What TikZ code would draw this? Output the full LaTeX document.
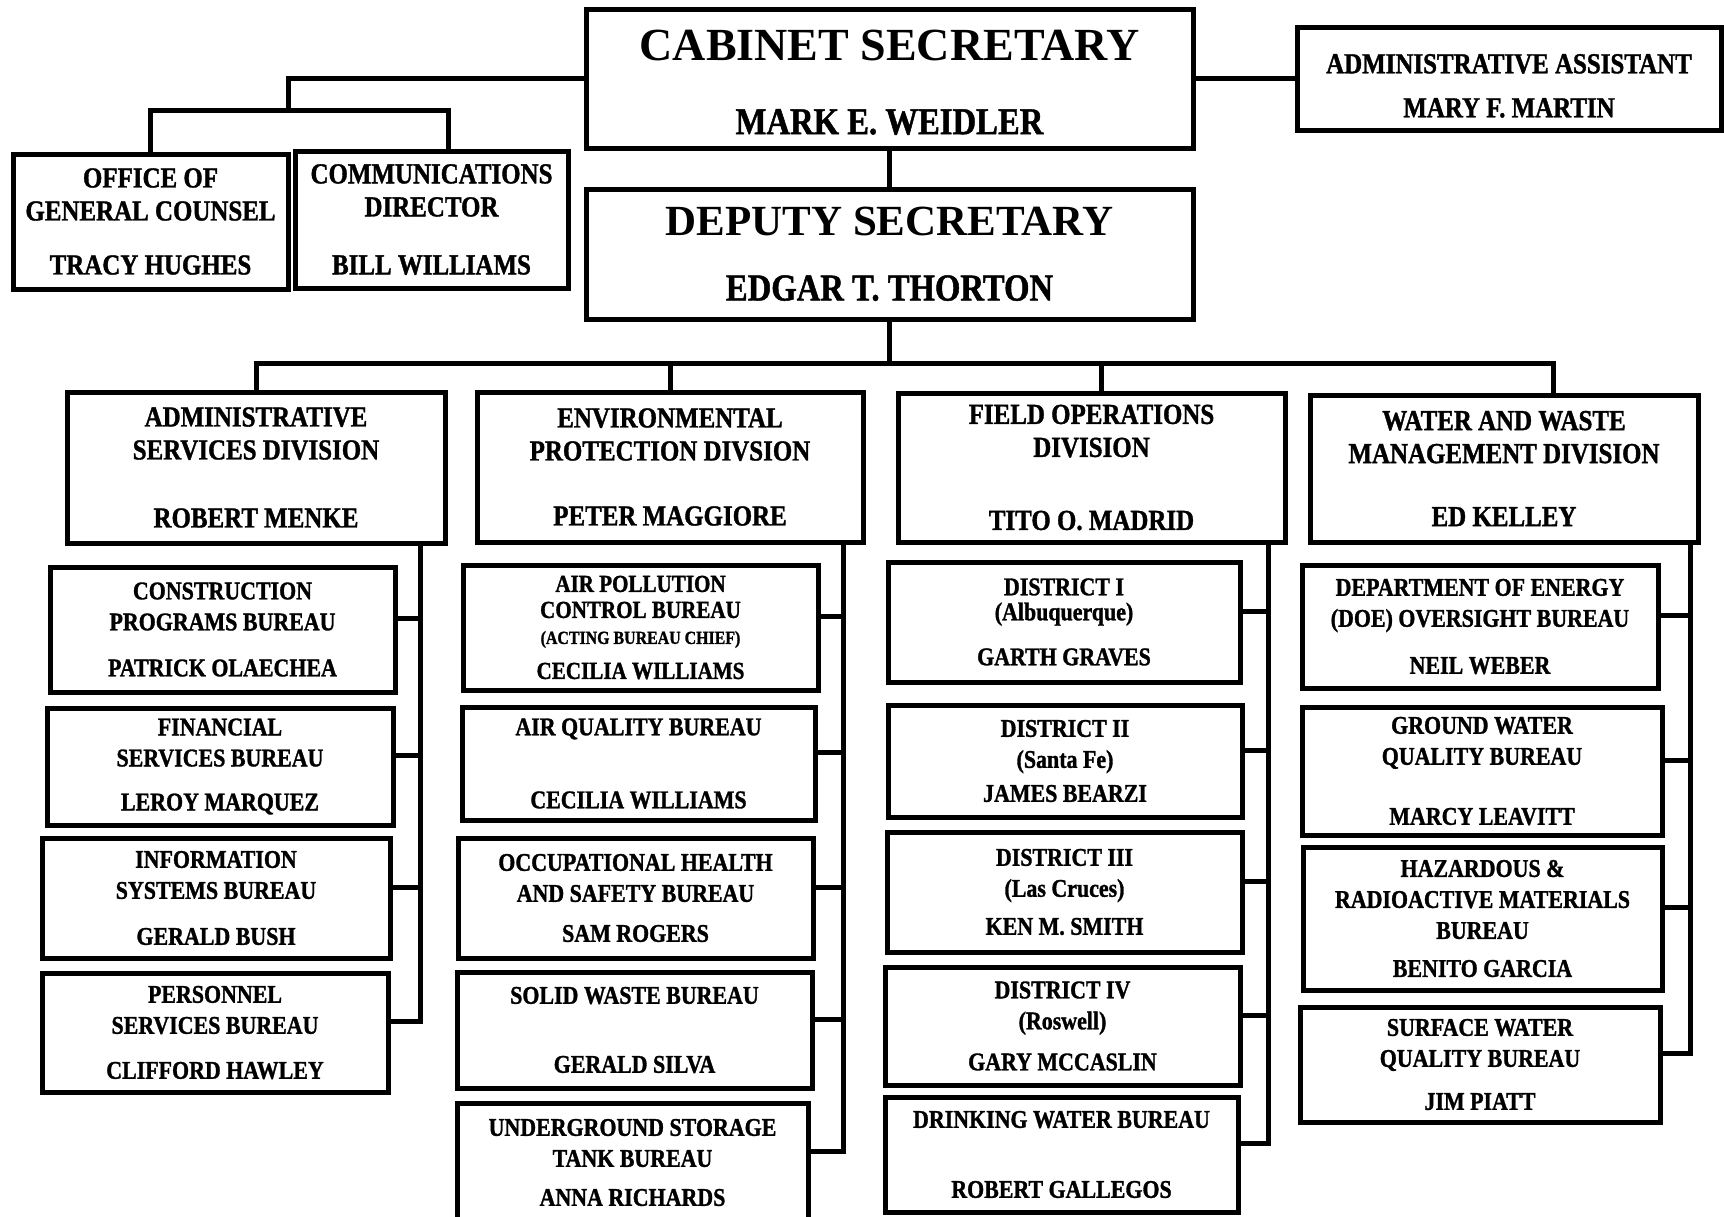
\documentclass[tikz,border=0pt]{standalone}
\usepackage{fontspec}
\setmainfont{Liberation Serif}[BoldFeatures = {FakeStretch = 0.86, FakeBold = 1.2}]
\newfontfamily\widefont{Liberation Serif}
\begin{document}
\begin{tikzpicture}[x = 1pt, y = -1pt, line width = 5pt,
        box/.style = {draw, align = center, inner sep = 0pt},
        topfont/.style = {font = \fontsize{38}{40}\selectfont\bfseries},
        divfont/.style = {font = \fontsize{29}{33}\selectfont\bfseries},
        burfont/.style = {font = \fontsize{25.5}{31}\selectfont\bfseries}]
        \useasboundingbox (0, 0) rectangle (1724, 1216);

        %%CS
        \node[box, topfont, minimum width = 607pt, minimum height = 139pt](cab) at(889.5, 78.5){{\widefont\fontsize{46}{50}\selectfont\bfseries\rule{0pt}{38pt}CABINET SECRETARY}\\[34pt]MARK E. WEIDLER};
        %%AA
        \node[box, divfont, minimum width = 424pt, minimum height = 103pt](asst) at(1509, 78.5){\rule{0pt}{34pt}ADMINISTRATIVE ASSISTANT\\[11pt]MARY F. MARTIN};
            \draw(cab.east) to (asst.west);
        %%GC
        \node[box, divfont, minimum width = 275pt, minimum height = 135pt](ogc) at(150.5, 221.5){OFFICE OF\\GENERAL COUNSEL\\[21pt]TRACY HUGHES};
        %%CD
        \node[box, divfont, minimum width = 273pt, minimum height = 137pt](comm) at(431.5, 219.5){COMMUNICATIONS\\DIRECTOR\\[25pt]BILL WILLIAMS};
            \coordinate (jl) at(288, 110);
            \draw(cab.west) -| (jl);
            \draw(ogc.north) |- (jl) -| ([xshift = 17pt]comm.north);
        %%DS
        \node[box, topfont, minimum width = 607pt, minimum height = 130pt](dep) at(889.5, 254){{\widefont\fontsize{43}{50}\selectfont\bfseries DEPUTY SECRETARY}\\[25pt]EDGAR T. THORTON};
            \draw(cab.south) to (dep.north);

        %%DIV
        \node[box, divfont, minimum width = 378pt, minimum height = 151pt](asd) at(256, 467.5){ADMINISTRATIVE\\SERVICES DIVISION\\[35pt]ROBERT MENKE};
        \node[box, divfont, minimum width = 386pt, minimum height = 150pt](epd) at(670, 467){ENVIRONMENTAL\\PROTECTION DIVSION\\[32pt]PETER MAGGIORE};
        \node[box, divfont, minimum width = 387pt, minimum height = 149pt](fod) at(1091.5, 467.5){FIELD OPERATIONS\\DIVISION\\[40pt]TITO O. MADRID};
        \node[box, divfont, minimum width = 388pt, minimum height = 147pt](wwm) at(1504, 468.5){WATER AND WASTE\\MANAGEMENT DIVISION\\[30pt]ED KELLEY};
            \coordinate (bar) at(885, 363);
            \draw(dep.south) to (dep.south |- bar);
            \draw(asd.north) |- ([xshift = 49pt]wwm.north |- bar) to ([xshift = 49pt]wwm.north);
            \draw(epd.north) to (epd.north |- bar);
            \draw([xshift = 10pt]fod.north) to ([xshift = 10pt]fod.north |- bar);

        %%ASD
        \node[box, burfont, minimum width = 345pt, minimum height = 125pt](cpb) at(222.5, 629.5){CONSTRUCTION\\PROGRAMS BUREAU\\[15pt]PATRICK OLAECHEA};
        \node[box, burfont, minimum width = 346pt, minimum height = 117pt](fsb) at(220, 766.5){FINANCIAL\\SERVICES BUREAU\\[13pt]LEROY MARQUEZ};
        \node[box, burfont, minimum width = 348pt, minimum height = 120pt](isb) at(216, 898){INFORMATION\\SYSTEMS BUREAU\\[15pt]GERALD BUSH};
        \node[box, burfont, minimum width = 346pt, minimum height = 119pt](psb) at(215, 1032.5){PERSONNEL\\SERVICES BUREAU\\[14pt]CLIFFORD HAWLEY};
            \coordinate (asdsp) at(420, 543);
            \draw(asdsp) |- ([yshift = 11pt]psb.east);
            \draw([yshift = 11pt]cpb.east) to ([yshift = 11pt]cpb.east -| asdsp);
            \draw([yshift = 11pt]fsb.east) to ([yshift = 11pt]fsb.east -| asdsp);
            \draw([yshift = 11pt]isb.east) to ([yshift = 11pt]isb.east -| asdsp);

        %%EPD
        \node[box, burfont, font = \fontsize{24.5}{26}\selectfont\bfseries, minimum width = 355pt, minimum height = 125pt](apc) at(640.5, 627.5){AIR POLLUTION\\CONTROL BUREAU\\{\fontsize{18.5}{18}\selectfont(ACTING BUREAU CHIEF)}\\[9pt]CECILIA WILLIAMS};
        \node[box, burfont, minimum width = 353pt, minimum height = 113pt](aqb) at(638.5, 763.5){AIR QUALITY BUREAU\\[42pt]CECILIA WILLIAMS};
        \node[box, burfont, minimum width = 355pt, minimum height = 120pt](ohs) at(635.5, 898){OCCUPATIONAL HEALTH\\AND SAFETY BUREAU\\[9pt]SAM ROGERS};
        \node[box, burfont, minimum width = 355pt, minimum height = 116pt](swb) at(634.5, 1030){SOLID WASTE BUREAU\\[38pt]GERALD SILVA};
        \node[box, burfont, minimum width = 351pt, minimum height = 119pt](ust) at(632.5, 1162.5){UNDERGROUND STORAGE\\TANK BUREAU\\[8pt]ANNA RICHARDS};
            \coordinate (epdsp) at(843, 542);
            \draw(epdsp) |- ([yshift = 11pt]ust.east);
            \draw([yshift = 11pt]apc.east) to ([yshift = 11pt]apc.east -| epdsp);
            \draw([yshift = 11pt]aqb.east) to ([yshift = 11pt]aqb.east -| epdsp);
            \draw([yshift = 11pt]ohs.east) to ([yshift = 11pt]ohs.east -| epdsp);
            \draw([yshift = 11pt]swb.east) to ([yshift = 11pt]swb.east -| epdsp);

        %%FOD
        \node[box, burfont, minimum width = 352pt, minimum height = 120pt](d1) at(1064, 622){DISTRICT I\\[-6pt](Albuquerque)\\[14pt]GARTH GRAVES};
        \node[box, burfont, minimum width = 354pt, minimum height = 112pt](d2) at(1065, 761){DISTRICT II\\(Santa Fe)\\[3pt]JAMES BEARZI};
        \node[box, burfont, minimum width = 355pt, minimum height = 120pt](d3) at(1064.5, 892){DISTRICT III\\(Las Cruces)\\[7pt]KEN M. SMITH};
        \node[box, burfont, minimum width = 355pt, minimum height = 118pt](d4) at(1062.5, 1026){DISTRICT IV\\(Roswell)\\[10pt]GARY MCCASLIN};
        \node[box, burfont, minimum width = 353pt, minimum height = 115pt](dwb) at(1061.5, 1154.5){DRINKING WATER BUREAU\\[39pt]ROBERT GALLEGOS};
            \coordinate (fodsp) at(1268, 542);
            \draw(fodsp) |- ([yshift = 11pt]dwb.east);
            \draw([yshift = 11pt]d1.east) to ([yshift = 11pt]d1.east -| fodsp);
            \draw([yshift = 11pt]d2.east) to ([yshift = 11pt]d2.east -| fodsp);
            \draw([yshift = 11pt]d3.east) to ([yshift = 11pt]d3.east -| fodsp);
            \draw([yshift = 11pt]d4.east) to ([yshift = 11pt]d4.east -| fodsp);

        %%WWM
        \node[box, burfont, minimum width = 356pt, minimum height = 123pt](doe) at(1480, 626.5){DEPARTMENT OF ENERGY\\(DOE) OVERSIGHT BUREAU\\[16pt]NEIL WEBER};
        \node[box, burfont, minimum width = 360pt, minimum height = 128pt](gwq) at(1482, 771){GROUND WATER\\QUALITY BUREAU\\[29pt]MARCY LEAVITT};
        \node[box, burfont, minimum width = 359pt, minimum height = 143pt](hrm) at(1482.5, 918.5){HAZARDOUS \&\\RADIOACTIVE MATERIALS\\BUREAU\\[7pt]BENITO GARCIA};
        \node[box, burfont, minimum width = 360pt, minimum height = 115pt](swq) at(1480, 1064.5){SURFACE WATER\\QUALITY BUREAU\\[12pt]JIM PIATT};
            \coordinate (wwmsp) at(1690, 542);
            \draw(wwmsp) |- ([yshift = 11pt]swq.east);
            \draw([yshift = 11pt]doe.east) to ([yshift = 11pt]doe.east -| wwmsp);
            \draw([yshift = 11pt]gwq.east) to ([yshift = 11pt]gwq.east -| wwmsp);
            \draw([yshift = 11pt]hrm.east) to ([yshift = 11pt]hrm.east -| wwmsp);
\end{tikzpicture}
\end{document}
